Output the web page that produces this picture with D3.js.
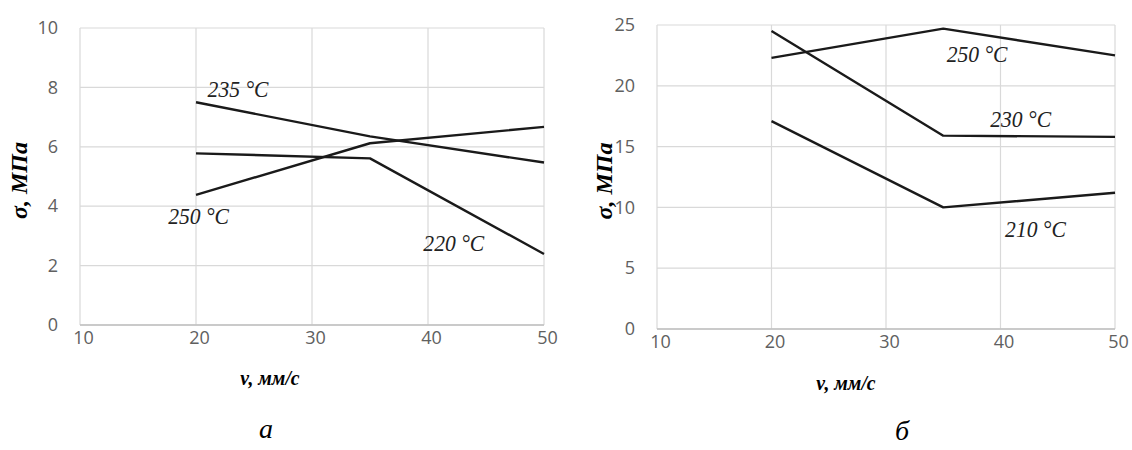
<!DOCTYPE html>
<html>
<head>
<meta charset="utf-8">
<script src="https://cdn.jsdelivr.net/npm/d3@7/dist/d3.min.js"></script>
<style>
  html, body { margin: 0; padding: 0; background: #fff; }
  svg { display: block; }
</style>
</head>
<body>
<svg id="chart" width="1132" height="450"></svg>
<script>
// ---------- data ----------
const speeds = [20, 35, 50];
const xTicks = [10, 20, 30, 40, 50];

// panel a
const aTicksY = [0, 2, 4, 6, 8, 10];
const a235 = [7.5, 6.35, 5.47];
const a250 = [4.38, 6.12, 6.67];
const a220 = [5.78, 5.61, 2.39];
const aSeriesNames = ["235 °C", "250 °C", "220 °C"];
const aLabelX = [21.0, 17.6, 39.6];
const aLabelY = [7.68, 3.4, 2.49];

// panel б
const bTicksY = [0, 5, 10, 15, 20, 25];
const b250 = [22.3, 24.7, 22.5];
const b230 = [24.5, 15.9, 15.8];
const b210 = [17.1, 10.0, 11.2];
const bSeriesNames = ["250 °C", "230 °C", "210 °C"];
const bLabelX = [35.3, 39.1, 40.4];
const bLabelY = [21.96, 16.6, 7.6];

const yTitle = "σ, МПа";
const xTitle = "v, мм/с";
const captions = ["а", "б"];

// ---------- drawing ----------
const svg = d3.select("#chart");

function panel(opts) {
  const x = d3.scaleLinear().domain([10, 50]).range([opts.left, opts.right]);
  const y = d3.scaleLinear().domain([0, opts.yMax]).range([opts.bottom, opts.top]);
  const g = svg.append("g");

  // grid
  g.selectAll("line.gx").data(xTicks).join("line")
    .attr("x1", d => x(d)).attr("x2", d => x(d))
    .attr("y1", y(0)).attr("y2", y(opts.yMax))
    .attr("stroke", "#d9d9d9").attr("stroke-width", 1.2);
  g.selectAll("line.gy").data(opts.yTicks).join("line")
    .attr("x1", x(10)).attr("x2", x(50))
    .attr("y1", d => y(d)).attr("y2", d => y(d))
    .attr("stroke", "#d9d9d9").attr("stroke-width", 1.2);
  g.append("line")
    .attr("x1", x(10)).attr("x2", x(50)).attr("y1", y(0)).attr("y2", y(0))
    .attr("stroke", "#bfbfbf").attr("stroke-width", 1.5);

  // axes labels
  const ax = g.append("g").attr("transform", `translate(0,${y(0)})`)
    .call(d3.axisBottom(x).tickValues(xTicks).tickSize(0).tickPadding(6).tickFormat(d3.format("d")));
  const ay = g.append("g").attr("transform", `translate(${x(10)},0)`)
    .call(d3.axisLeft(y).tickValues(opts.yTicks).tickSize(0).tickPadding(22).tickFormat(d3.format("d")));
  [ax, ay].forEach(a => {
    a.select(".domain").remove();
    a.selectAll("text").attr("font-family", "'Open Sans', sans-serif")
      .attr("font-size", 18).attr("fill", "#606060");
  });
  ax.selectAll("text").attr("dx", 3);

  // series
  const line = d3.line().x((d, i) => x(speeds[i])).y(d => y(d));
  opts.series.forEach(s => {
    g.append("path").datum(s).attr("d", line)
      .attr("fill", "none").attr("stroke", "#1a1a1a").attr("stroke-width", 2.4)
      .attr("stroke-linejoin", "round");
  });

  // series labels
  opts.names.forEach((n, i) => {
    g.append("text")
      .attr("transform", `translate(${x(opts.lx[i])},${y(opts.ly[i])}) scale(0.9,1)`)
      .attr("font-family", "'Liberation Serif', serif").attr("font-style", "italic")
      .attr("font-size", 24).attr("fill", "#222").text(n);
  });

  // titles
  g.append("text")
    .attr("transform", `translate(${opts.yTitleX},${(opts.top + opts.bottom) / 2 + 4}) rotate(-90)`)
    .attr("text-anchor", "middle")
    .attr("font-family", "'Liberation Serif', serif").attr("font-style", "italic").attr("font-weight", "bold")
    .attr("font-size", 24).attr("fill", "#000").text(yTitle);
  g.append("text")
    .attr("transform", `translate(${opts.xTitleX},${opts.xTitleY}) scale(0.9,1)`)
    .attr("text-anchor", "middle")
    .attr("font-family", "'Liberation Serif', serif").attr("font-style", "italic").attr("font-weight", "bold")
    .attr("font-size", 22).attr("fill", "#000").text(xTitle);
  g.append("text")
    .attr("transform", `translate(${opts.capX},${opts.capY})`)
    .attr("text-anchor", "middle")
    .attr("font-family", "'Liberation Serif', serif").attr("font-style", "italic")
    .attr("font-size", 28).attr("fill", "#000").text(opts.caption);
}

panel({
  left: 80, right: 544, top: 28, bottom: 325, yMax: 10, yTicks: aTicksY,
  series: [a235, a250, a220], names: aSeriesNames, lx: aLabelX, ly: aLabelY,
  yTitleX: 27, xTitleX: 270, xTitleY: 385, capX: 266, capY: 438, caption: captions[0]
});
panel({
  left: 657, right: 1115, top: 25, bottom: 329, yMax: 25, yTicks: bTicksY,
  series: [b250, b230, b210], names: bSeriesNames, lx: bLabelX, ly: bLabelY,
  yTitleX: 612, xTitleX: 846, xTitleY: 390, capX: 902, capY: 440, caption: captions[1]
});
</script>
</body>
</html>
